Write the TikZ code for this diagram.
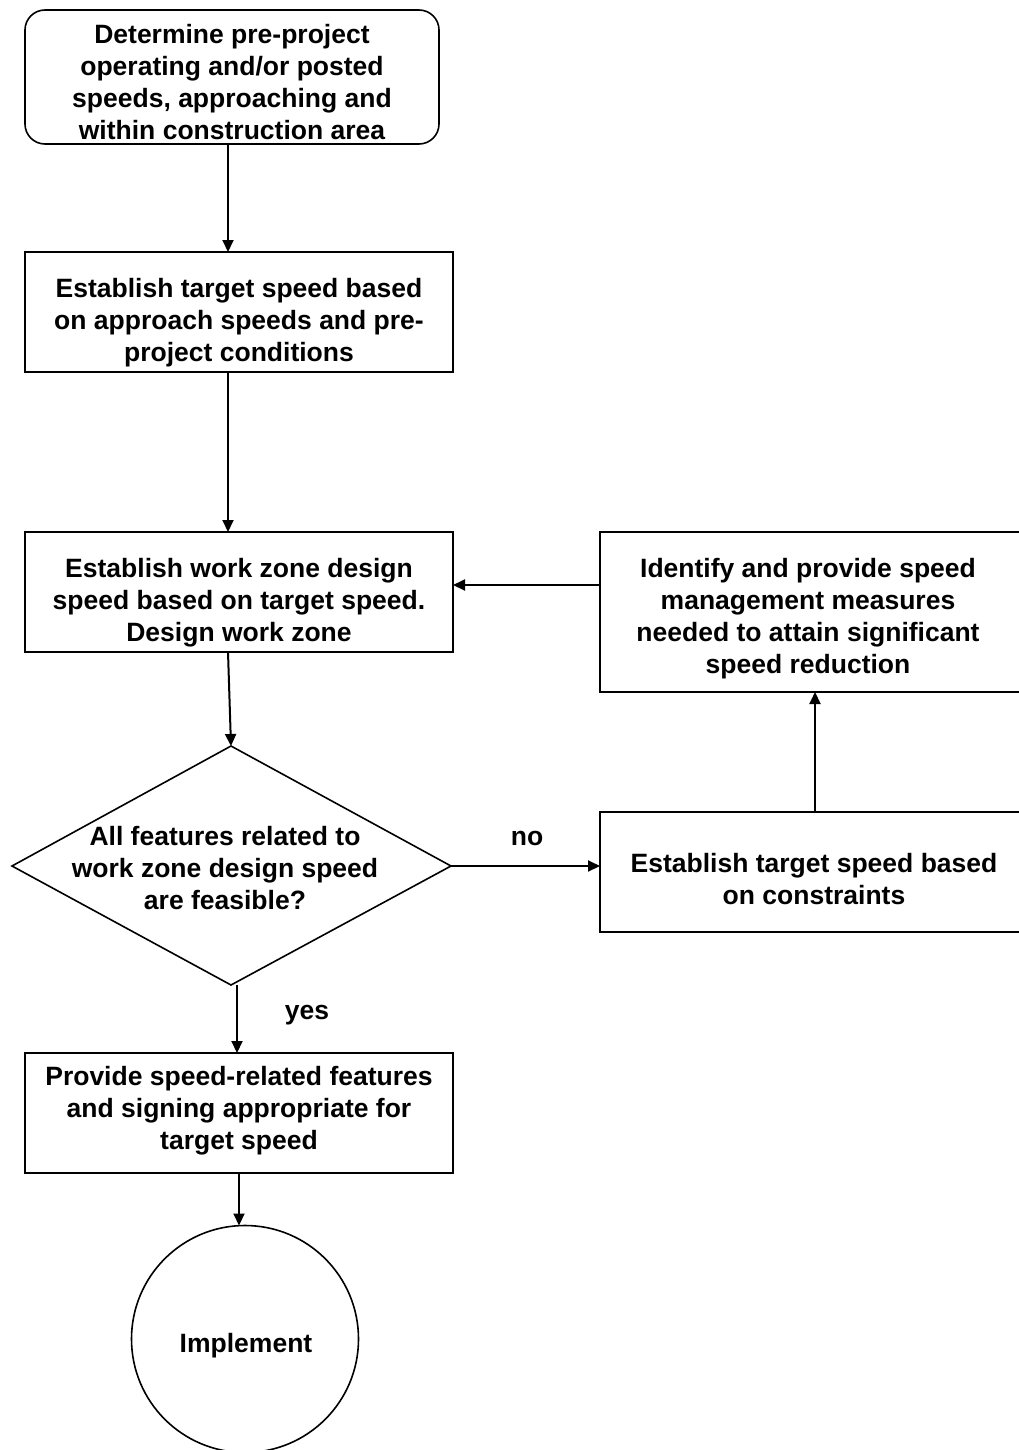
\documentclass[tikz,border=0pt]{standalone}
\usepackage{fontspec}
\setmainfont{Liberation Sans}
\usetikzlibrary{shapes.geometric,arrows.meta}
\begin{document}
\begin{tikzpicture}[x=1pt,y=-1pt,
  every node/.style={font=\bfseries\fontsize{26.5}{32}\selectfont},
  txt/.style={align=center, inner sep=0pt},
  frame/.style={draw=black, line width=1.6pt},
  conn/.style={draw=black, line width=2pt, -{Triangle[length=12pt,width=11pt]}},
  lbl/.style={inner sep=0pt}]
\useasboundingbox (0,0) rectangle (1018,1450);
\fill[white] (0,0) rectangle (1018,1450);
% shapes
\draw[frame, rounded corners=20pt] (25,10) rectangle (439,144);
\node[txt] (t1) at (232,82) {Determine pre-project\\operating and/or posted\\speeds, approaching and\\within construction area};
\coordinate (b1) at (228,144);

\draw[frame] (25,252) rectangle (453,372);
\node[txt] (t2) at (239,323) {Establish target speed based\\on approach speeds and pre-\\project conditions};
\coordinate (b2t) at (228,252);
\coordinate (b2b) at (228,372);

\draw[frame] (25,532) rectangle (453,652);
\node[txt] (t3) at (239,603) {Establish work zone design\\speed based on target speed.\\Design work zone};
\coordinate (b3t) at (228,532);
\coordinate (b3b) at (228,652);
\coordinate (b3r) at (453,585);

\draw[frame] (231,746) -- (451,866) -- (231,985) -- (12,866) -- cycle;
\node[txt] (t4) at (225,868) {All features related to\\work zone design speed\\are feasible?};
\coordinate (dt) at (231,746);
\coordinate (dr) at (451,866);
\coordinate (db) at (237,985);

\draw[frame] (600,532) rectangle (1030,692);
\node[txt] (t5) at (808,619) {Identify and provide speed\\management measures\\needed to attain significant\\speed reduction};
\coordinate (b4l) at (600,585);
\coordinate (b4b) at (815,692);

\draw[frame] (600,812) rectangle (1030,932);
\node[txt] (t6) at (814,879) {Establish target speed based\\on constraints};
\coordinate (b5l) at (600,866);
\coordinate (b5t) at (815,812);

\draw[frame] (25,1053) rectangle (453,1173);
\node[txt] (t7) at (239,1111) {Provide speed-related features\\and signing appropriate for\\target speed};
\coordinate (b6t) at (237,1053);
\coordinate (b6b) at (239,1173);

\draw[frame] (245,1339) circle (113.5);
\node[txt] (t8) at (246,1346) {Implement};
\coordinate (ct) at (239,1225.5);

% connectors
\draw[conn] (b1) -- (b2t);
\draw[conn] (b2b) -- (b3t);
\draw[conn] (b3b) -- (dt);
\draw[conn] (dr) -- (b5l);
\draw[conn] (b5t) -- (b4b);
\draw[conn] (b4l) -- (b3r);
\draw[conn] (db) -- (b6t);
\draw[conn] (b6b) -- (ct);

\node[lbl] (no) at (527,838) {no};
\node[lbl] (yes) at (307,1015) {yes};
\end{tikzpicture}
\end{document}
